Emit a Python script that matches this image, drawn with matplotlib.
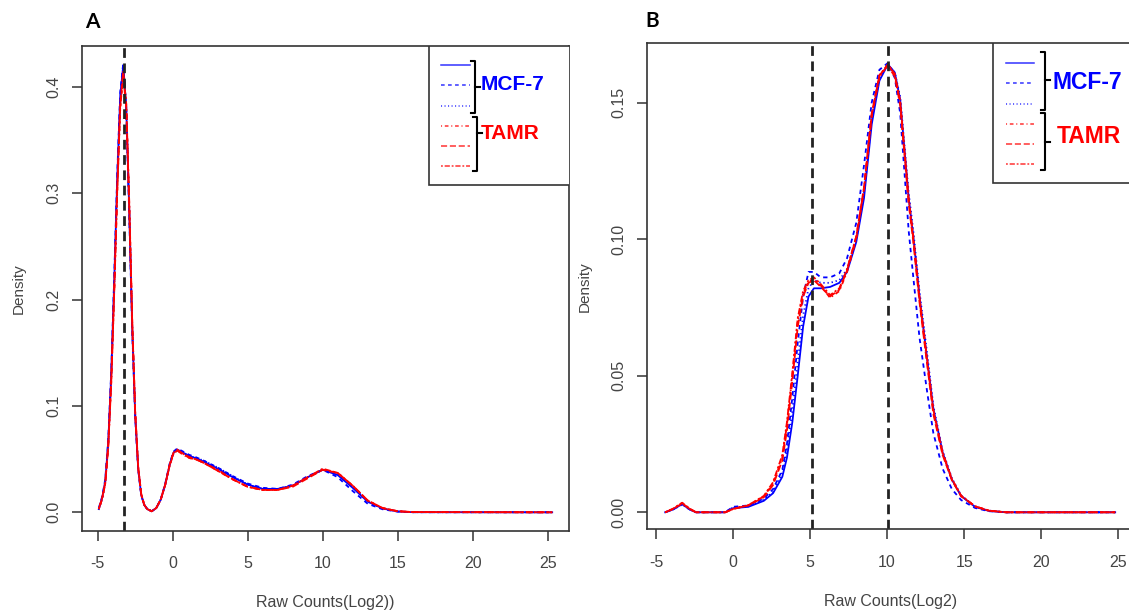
import matplotlib.pyplot as plt
from matplotlib.patches import Rectangle

plt.rcParams['font.family'] = ['Liberation Sans', 'DejaVu Sans']
plt.rcParams['axes.unicode_minus'] = False

# ---- Panel A: density of raw counts (log2) ----
xa = [-4.93, -4.7, -4.5, -4.3, -4.1, -3.9, -3.7, -3.5, -3.3, -3.1, -2.9, -2.7, -2.5, -2.3,
      -2.1, -1.9, -1.7, -1.4, -1.1, -0.8, -0.5, -0.2, 0.05, 0.3, 0.7, 1.1, 1.5, 2.0, 3.0,
      4.0, 5.0, 6.0, 7.0, 8.0, 9.0, 10.0, 11.0, 12.0, 13.0, 14.0, 15.0, 16.0, 25.3]
a_mcf7_1 = [0.003, 0.014, 0.029, 0.066, 0.130, 0.218, 0.314, 0.392, 0.420, 0.380, 0.283, 0.172, 0.090, 0.040,
            0.016, 0.007, 0.003, 0.001, 0.004, 0.012, 0.026, 0.045, 0.056, 0.059, 0.056, 0.053, 0.051, 0.048, 0.041,
            0.033, 0.026, 0.022, 0.022, 0.025, 0.033, 0.040, 0.035, 0.023, 0.010, 0.0035, 0.0008, 0.0001, 0.0]
a_mcf7_2 = [0.004, 0.015, 0.031, 0.068, 0.133, 0.222, 0.318, 0.395, 0.422, 0.378, 0.280, 0.170, 0.089, 0.040,
            0.016, 0.007, 0.003, 0.001, 0.004, 0.012, 0.027, 0.046, 0.057, 0.060, 0.057, 0.054, 0.052, 0.049, 0.042,
            0.034, 0.027, 0.023, 0.022, 0.026, 0.034, 0.040, 0.033, 0.020, 0.008, 0.0028, 0.0006, 0.0001, 0.0]
a_mcf7_3 = [0.003, 0.013, 0.028, 0.064, 0.127, 0.214, 0.310, 0.388, 0.418, 0.382, 0.286, 0.175, 0.091, 0.041,
            0.017, 0.007, 0.003, 0.001, 0.004, 0.012, 0.026, 0.045, 0.056, 0.058, 0.056, 0.053, 0.051, 0.049, 0.042,
            0.034, 0.026, 0.022, 0.022, 0.025, 0.033, 0.040, 0.036, 0.024, 0.010, 0.0036, 0.0009, 0.0001, 0.0]
a_tamr_1 = [0.003, 0.013, 0.027, 0.061, 0.122, 0.207, 0.302, 0.380, 0.412, 0.384, 0.292, 0.180, 0.094, 0.042,
            0.017, 0.007, 0.003, 0.001, 0.004, 0.012, 0.026, 0.045, 0.056, 0.058, 0.054, 0.051, 0.050, 0.047, 0.039,
            0.031, 0.024, 0.021, 0.021, 0.025, 0.033, 0.040, 0.037, 0.025, 0.011, 0.0040, 0.0010, 0.0002, 0.0]
a_tamr_2 = [0.003, 0.014, 0.028, 0.063, 0.125, 0.210, 0.305, 0.384, 0.415, 0.383, 0.289, 0.177, 0.092, 0.041,
            0.017, 0.007, 0.003, 0.001, 0.004, 0.012, 0.026, 0.045, 0.056, 0.059, 0.055, 0.052, 0.050, 0.047, 0.039,
            0.031, 0.024, 0.021, 0.021, 0.024, 0.032, 0.040, 0.037, 0.025, 0.011, 0.0039, 0.0010, 0.0002, 0.0]
a_tamr_3 = [0.003, 0.013, 0.027, 0.062, 0.123, 0.208, 0.303, 0.381, 0.410, 0.380, 0.288, 0.178, 0.093, 0.042,
            0.017, 0.007, 0.003, 0.001, 0.004, 0.012, 0.026, 0.044, 0.055, 0.058, 0.055, 0.051, 0.050, 0.047, 0.040,
            0.031, 0.024, 0.021, 0.021, 0.025, 0.033, 0.041, 0.037, 0.025, 0.011, 0.0039, 0.0010, 0.0002, 0.0]
a_cutoffs = [-3.25]

# ---- Panel B ----
xb = [-4.4, -3.9, -3.3, -2.8, -2.4, -0.5, 0.0, 1.0, 2.0, 2.6, 3.2, 3.5, 3.85, 4.2, 4.55, 4.9, 5.25, 5.7,
      6.3, 6.9, 7.4, 8.0, 8.5, 9.0, 9.5, 10.05, 10.5, 10.85, 11.4, 11.7, 12.1, 12.6, 13.0, 13.6, 14.2,
      14.8, 15.7, 16.6, 17.7, 24.8]
b_mcf7_1 = [0.0, 0.0010, 0.0030, 0.0010, 0.0, 0.0, 0.0015, 0.0020, 0.0042, 0.0070, 0.0130, 0.0200, 0.0330,
            0.0500, 0.0680, 0.0790, 0.0820, 0.0820, 0.0825, 0.0840, 0.0880, 0.0990, 0.1150, 0.1420, 0.1580,
            0.1640, 0.1610, 0.1510, 0.1150, 0.1010, 0.0790, 0.0560, 0.0380, 0.0220, 0.0120, 0.0060, 0.0020,
            0.0005, 0.0, 0.0]
b_mcf7_2 = [0.0, 0.0010, 0.0030, 0.0010, 0.0, 0.0, 0.0020, 0.0025, 0.0050, 0.0085, 0.0155, 0.0250, 0.0420,
            0.0620, 0.0790, 0.0880, 0.0880, 0.0860, 0.0860, 0.0875, 0.0930, 0.1060, 0.1270, 0.1500, 0.1620,
            0.1645, 0.1590, 0.1460, 0.1030, 0.0860, 0.0640, 0.0440, 0.0290, 0.0160, 0.0085, 0.0045, 0.0016,
            0.0004, 0.0, 0.0]
b_mcf7_3 = [0.0, 0.0010, 0.0028, 0.0010, 0.0, 0.0, 0.0018, 0.0022, 0.0046, 0.0075, 0.0145, 0.0230, 0.0370,
            0.0550, 0.0720, 0.0820, 0.0850, 0.0840, 0.0840, 0.0850, 0.0890, 0.1000, 0.1170, 0.1440, 0.1590,
            0.1640, 0.1610, 0.1520, 0.1170, 0.1030, 0.0810, 0.0580, 0.0390, 0.0225, 0.0125, 0.0062, 0.0021,
            0.0006, 0.0, 0.0]
b_tamr_1 = [0.0, 0.0012, 0.0034, 0.0012, 0.0, 0.0, 0.0012, 0.0026, 0.0058, 0.0105, 0.0200, 0.0320, 0.0500,
            0.0700, 0.0800, 0.0845, 0.0855, 0.0830, 0.0785, 0.0810, 0.0880, 0.1000, 0.1180, 0.1450, 0.1590,
            0.1640, 0.1600, 0.1500, 0.1140, 0.1000, 0.0780, 0.0550, 0.0370, 0.0215, 0.0120, 0.0060, 0.0022,
            0.0006, 0.0, 0.0]
b_tamr_2 = [0.0, 0.0012, 0.0032, 0.0012, 0.0, 0.0, 0.0012, 0.0025, 0.0055, 0.0100, 0.0190, 0.0300, 0.0480,
            0.0680, 0.0790, 0.0840, 0.0850, 0.0825, 0.0790, 0.0815, 0.0885, 0.1010, 0.1190, 0.1460, 0.1600,
            0.1635, 0.1595, 0.1490, 0.1130, 0.0990, 0.0770, 0.0540, 0.0360, 0.0210, 0.0118, 0.0059, 0.0022,
            0.0006, 0.0, 0.0]
b_tamr_3 = [0.0, 0.0013, 0.0035, 0.0013, 0.0, 0.0, 0.0012, 0.0026, 0.0060, 0.0110, 0.0210, 0.0330, 0.0510,
            0.0710, 0.0810, 0.0850, 0.0860, 0.0835, 0.0795, 0.0820, 0.0890, 0.1010, 0.1185, 0.1455, 0.1600,
            0.1640, 0.1605, 0.1505, 0.1150, 0.1010, 0.0790, 0.0560, 0.0375, 0.0220, 0.0122, 0.0061, 0.0022,
            0.0006, 0.0, 0.0]
b_cutoffs = [5.1, 10.05]

x_ticks = [-5, 0, 5, 10, 15, 20, 25]
a_yticks = [0.0, 0.1, 0.2, 0.3, 0.4]
a_ylabels = ["0.0", "0.1", "0.2", "0.3", "0.4"]
b_yticks = [0.0, 0.05, 0.10, 0.15]
b_ylabels = ["0.00", "0.05", "0.10", "0.15"]

# R-like line types: solid, dashed, dotted (MCF-7) / dotdash, longdash, twodash (TAMR)
styles = [("blue", "-"), ("blue", (0, (2.4, 2.2))), ("blue", (0, (0.7, 1.6))),
          ("red", (0, (0.7, 1.8, 2.4, 1.8))), ("red", (0, (4.0, 1.8))), ("red", (0, (1.2, 1.2, 3.4, 1.2)))]

AX_COL = "#333333"


def draw_panel(ax, x, series, cutoffs, xlim, ylim, yticks, ylabels, xlabel, leg):
    for y, (col, ls) in zip(series, styles):
        ax.plot(x, y, color=col, linestyle=ls, lw=1.3)
    for c in cutoffs:
        ax.axvline(c, color="#222222", linestyle=(0, (3.5, 2)), lw=2.0)
    ax.set_xlim(*xlim)
    ax.set_ylim(*ylim)
    ax.set_xticks(x_ticks)
    ax.set_yticks(yticks)
    ax.set_yticklabels(ylabels, rotation=90, va="center")
    ax.tick_params(direction="out", length=7.5, width=1.1, color=AX_COL,
                   labelcolor="#444444", labelsize=11.5)
    ax.tick_params(axis="x", pad=11)
    ax.tick_params(axis="y", pad=7)
    for s in ax.spines.values():
        s.set_color(AX_COL)
        s.set_linewidth(1.2)
    ax.set_xlabel(xlabel, fontsize=11.5, color="#444444", va="center")
    ax.set_ylabel("Density", fontsize=11, color="#444444", va="center", ha="center")
    ax.xaxis.set_label_coords(0.5, leg["xlab_y"])
    ax.yaxis.set_label_coords(leg["ylab_x"], 0.5)

    # legend box with brackets
    ax.add_patch(Rectangle((leg["x0"], leg["y0"]), 1 - leg["x0"] + 0.05, 1 - leg["y0"],
                           transform=ax.transAxes, fill=True, facecolor="white",
                           edgecolor=AX_COL, lw=1.2, clip_on=True, zorder=5))
    for yy, (col, ls) in zip(leg["rows"], styles):
        ax.plot(leg["line_x"], [yy, yy], color=col, linestyle=ls, lw=1.1, alpha=0.8,
                transform=ax.transAxes, zorder=6)
    for (top, bot, mid), xb_ in zip(leg["brackets"], leg["bx"]):
        ax.plot([xb_ - 0.008, xb_, xb_, xb_ - 0.008], [top, top, bot, bot], color="black",
                lw=1.5, transform=ax.transAxes, zorder=6)
        ax.plot([xb_, xb_ + 0.01], [mid, mid], color="black", lw=1.5,
                transform=ax.transAxes, zorder=6)
    for (tx, ty), txt, col in zip(leg["text_pos"], ["MCF-7", "TAMR"], ["blue", "red"]):
        ax.text(tx, ty, txt, color=col, fontsize=leg["fs"], fontweight="bold",
                va="center", ha="left", transform=ax.transAxes, zorder=7)


fig = plt.figure(figsize=(11.29, 6.14), dpi=100)
axA = fig.add_axes([0.07263, 0.13567, 0.43162, 0.78860])
axB = fig.add_axes([0.5728, 0.13795, 0.43136, 0.79153])

legA = dict(x0=0.7127, y0=0.714, line_x=[0.7361, 0.7962],
            rows=[0.9618, 0.9205, 0.8771, 0.8358, 0.7945, 0.7532],
            brackets=[(0.9707, 0.8633, 0.9157), (0.8544, 0.7429, 0.8209)], bx=[0.8065, 0.8106],
            text_pos=[(0.8188, 0.9225), (0.8188, 0.8193)], fs=15,
            xlab_y=-0.1475, ylab_x=-0.1293)
legB = dict(x0=0.7117, y0=0.7119, line_x=[0.7372, 0.7953],
            rows=[0.9601, 0.9189, 0.8751, 0.8340, 0.7922, 0.7516],
            brackets=[(0.9815, 0.8628, 0.9245), (0.8560, 0.7393, 0.7975)], bx=[0.8175, 0.8175],
            text_pos=[(0.8328, 0.9189), (0.8419, 0.8078)], fs=16.5,
            xlab_y=-0.1495, ylab_x=-0.1267)

draw_panel(axA, xa, [a_mcf7_1, a_mcf7_2, a_mcf7_3, a_tamr_1, a_tamr_2, a_tamr_3], a_cutoffs,
           (-6.05, 26.44), (-0.0173, 0.4378), a_yticks, a_ylabels, "Raw Counts(Log2))", legA)
draw_panel(axB, xb, [b_mcf7_1, b_mcf7_2, b_mcf7_3, b_tamr_1, b_tamr_2, b_tamr_3], b_cutoffs,
           (-5.6, 26.0), (-0.00623, 0.1717), b_yticks, b_ylabels, "Raw Counts(Log2)", legB)

# panel letters
fig.text(85 / 1129, 1 - 22 / 614, "A", fontsize=15, fontweight="bold", family="Lato",
         ha="left", va="center")
fig.text(645 / 1129, 1 - 21 / 614, "B", fontsize=15, fontweight="bold", family="Lato",
         ha="left", va="center")

fig.savefig("out.png", dpi=100)
